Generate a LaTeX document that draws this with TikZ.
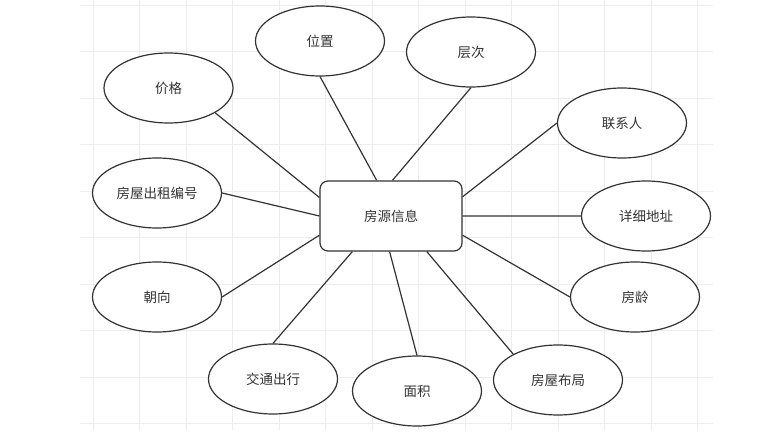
\documentclass[tikz,border=0pt]{standalone}
\usepackage{fontspec}
\newfontfamily\cjk{Noto Sans CJK SC}
\usetikzlibrary{shapes.geometric,calc}
\definecolor{ink}{HTML}{333333}
\definecolor{gridc}{HTML}{EDEDED}
\begin{document}
\begin{tikzpicture}[x=1pt,y=-1pt,
  attr/.style={ellipse,draw=ink,line width=1.2pt,fill=white,minimum width=129pt,minimum height=70pt,inner sep=0pt,font=\cjk\fontsize{13.5}{16}\selectfont,text=ink},
  ent/.style={rectangle,rounded corners=8pt,draw=ink,line width=1.2pt,fill=white,minimum width=142pt,minimum height=70pt,inner sep=0pt,font=\cjk\fontsize{13.5}{16}\selectfont,text=ink},
  link/.style={draw=ink,line width=1.2pt}]
\useasboundingbox (0,0) rectangle (780,446);
\fill[white] (0,0) rectangle (780,446);
% grid
\foreach \k in {0,...,13} \draw[gridc,line width=0.8pt] ({93+46.5*\k},0) -- ({93+46.5*\k},430);
\foreach \k in {0,...,9} \draw[gridc,line width=0.8pt] (80,{5+46.5*\k}) -- (713,{5+46.5*\k});
% nodes
\node[ent] (r) at (391,216) {房源信息};
\node[attr] (wz) at (320,41) {位置};
\node[attr] (cc) at (471,52) {层次};
\node[attr] (jg) at (168.5,88) {价格};
\node[attr] (lxr) at (622,123) {联系人};
\node[attr] (bh) at (157,193) {房屋出租编号};
\node[attr] (dz) at (646,216) {详细地址};
\node[attr] (cx) at (157,297) {朝向};
\node[attr] (fl) at (635,297) {房龄};
\node[attr] (jt) at (273,379) {交通出行};
\node[attr] (mj) at (417,391) {面积};
\node[attr] (bj) at (558,380) {房屋布局};
% connectors
\draw[link] (wz.south) -- ($(r.north west)!0.40!(r.north east)$);
\draw[link] (cc.south) -- ($(r.north west)!0.51!(r.north east)$);
\draw[link] (jg.-28) -- ($(r.north west)!0.24!(r.south west)$);
\draw[link] (bh.east) -- ($(r.north west)!0.50!(r.south west)$);
\draw[link] (cx.east) -- ($(r.north west)!0.77!(r.south west)$);
\draw[link] (jt.north) -- ($(r.south west)!0.23!(r.south east)$);
\draw[link] (mj.north) -- ($(r.south west)!0.49!(r.south east)$);
\draw[link] (bj.150) -- ($(r.south west)!0.75!(r.south east)$);
\draw[link] (fl.west) -- ($(r.north east)!0.77!(r.south east)$);
\draw[link] (dz.west) -- ($(r.north east)!0.50!(r.south east)$);
\draw[link] (lxr.west) -- ($(r.north east)!0.23!(r.south east)$);
\end{tikzpicture}
\end{document}
